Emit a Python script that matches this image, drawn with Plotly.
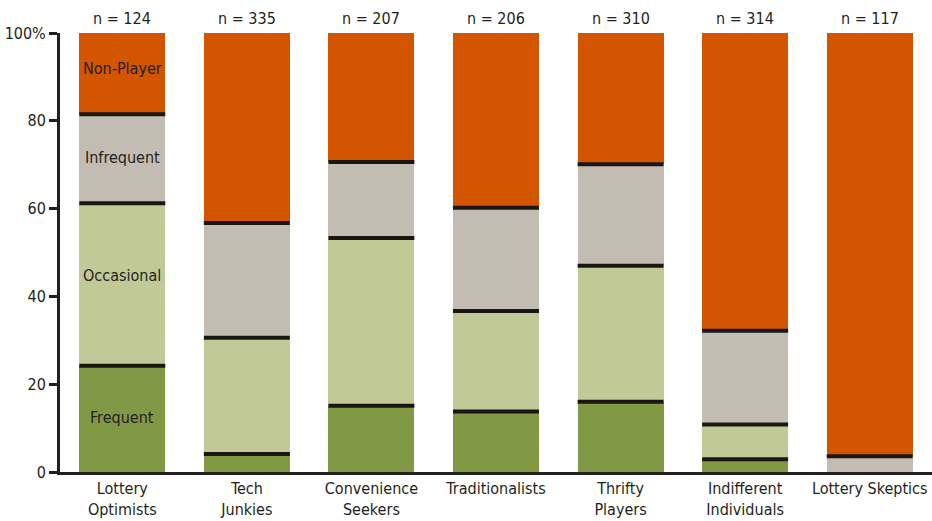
import plotly.graph_objects as go

categories = ["Lottery<br>Optimists", "Tech<br>Junkies", "Convenience<br>Seekers",
              "Traditionalists", "Thrifty<br>Players", "Indifferent<br>Individuals",
              "Lottery Skeptics"]
n_labels = ["n = 124", "n = 335", "n = 207", "n = 206", "n = 310", "n = 314", "n = 117"]

frequent = [24.2, 4.1, 15.1, 13.8, 16.0, 2.9, 0.0]
occasional = [37.0, 26.5, 38.2, 22.9, 31.0, 7.9, 0.0]
infrequent = [20.3, 26.1, 17.3, 23.5, 23.1, 21.4, 3.6]
nonplayer = [round(100 - f - o - i, 1) for f, o, i in zip(frequent, occasional, infrequent)]

series = [
    ("Frequent", frequent, "#819845"),
    ("Occasional", occasional, "#C1CA96"),
    ("Infrequent", infrequent, "#C3BCB3"),
    ("Non-Player", nonplayer, "#D45500"),
]
label_shift = {"Frequent": 1, "Occasional": 9, "Infrequent": 1, "Non-Player": 5}

FONT = "Liberation Sans Narrow, DejaVu Sans Condensed, Arial Narrow, sans-serif"
TXT = "#231f20"
FS = 16

fig = go.Figure()
for name, vals, col in series:
    fig.add_trace(go.Bar(x=categories, y=vals, name=name, marker=dict(color=col, line=dict(width=0)),
                         hoverinfo="skip"))

# separator lines at segment boundaries (derived from data)
half = 0.345
for ci, cat in enumerate(categories):
    cum = 0
    for si, (name, vals, col) in enumerate(series[:-1]):
        cum += vals[ci]
        if vals[ci] > 0:
            fig.add_shape(type="line", xref="x", yref="y",
                          x0=ci - half, x1=ci + half, y0=cum, y1=cum,
                          line=dict(color="#1a1614", width=4), layer="above")

# segment labels in first bar
cum = 0
for name, vals, col in series:
    mid = cum + vals[0] / 2
    cum += vals[0]
    fig.add_annotation(x=categories[0], y=mid, text=name, showarrow=False,
                       yshift=label_shift[name],
                       font=dict(family=FONT, size=FS, color=TXT))

# n labels
for cat, lab in zip(categories, n_labels):
    fig.add_annotation(x=cat, y=100, yref="y", text=lab, showarrow=False, yanchor="bottom",
                       yshift=3, font=dict(family=FONT, size=FS, color=TXT))

fig.update_layout(
    barmode="stack",
    bargap=0.31,
    width=932, height=521,
    margin=dict(l=60, r=0, t=33, b=49, autoexpand=False),
    plot_bgcolor="white", paper_bgcolor="white",
    showlegend=False,
    font=dict(family=FONT, size=FS, color=TXT),
)
fig.update_xaxes(
    type="category",
    categoryorder="array", categoryarray=categories,
    showline=True, linecolor="#231f20", linewidth=3,
    ticks="", showgrid=False, zeroline=False,
    tickfont=dict(family=FONT, size=FS, color=TXT),
    range=[-0.5, len(categories) - 0.5],
    automargin=False,
)
fig.update_yaxes(
    range=[0, 100],
    tickvals=[0, 20, 40, 60, 80, 100],
    ticktext=["0", "20", "40", "60", "80", "100%"],
    showline=True, linecolor="#231f20", linewidth=3,
    ticks="outside", ticklen=8, tickwidth=3, tickcolor="#231f20",
    showgrid=False, zeroline=False,
    tickfont=dict(family=FONT, size=FS, color=TXT),
    automargin=False,
)

fig.write_html("out.html", config={"displayModeBar": False},
               post_script="document.body.style.margin='0px';")
